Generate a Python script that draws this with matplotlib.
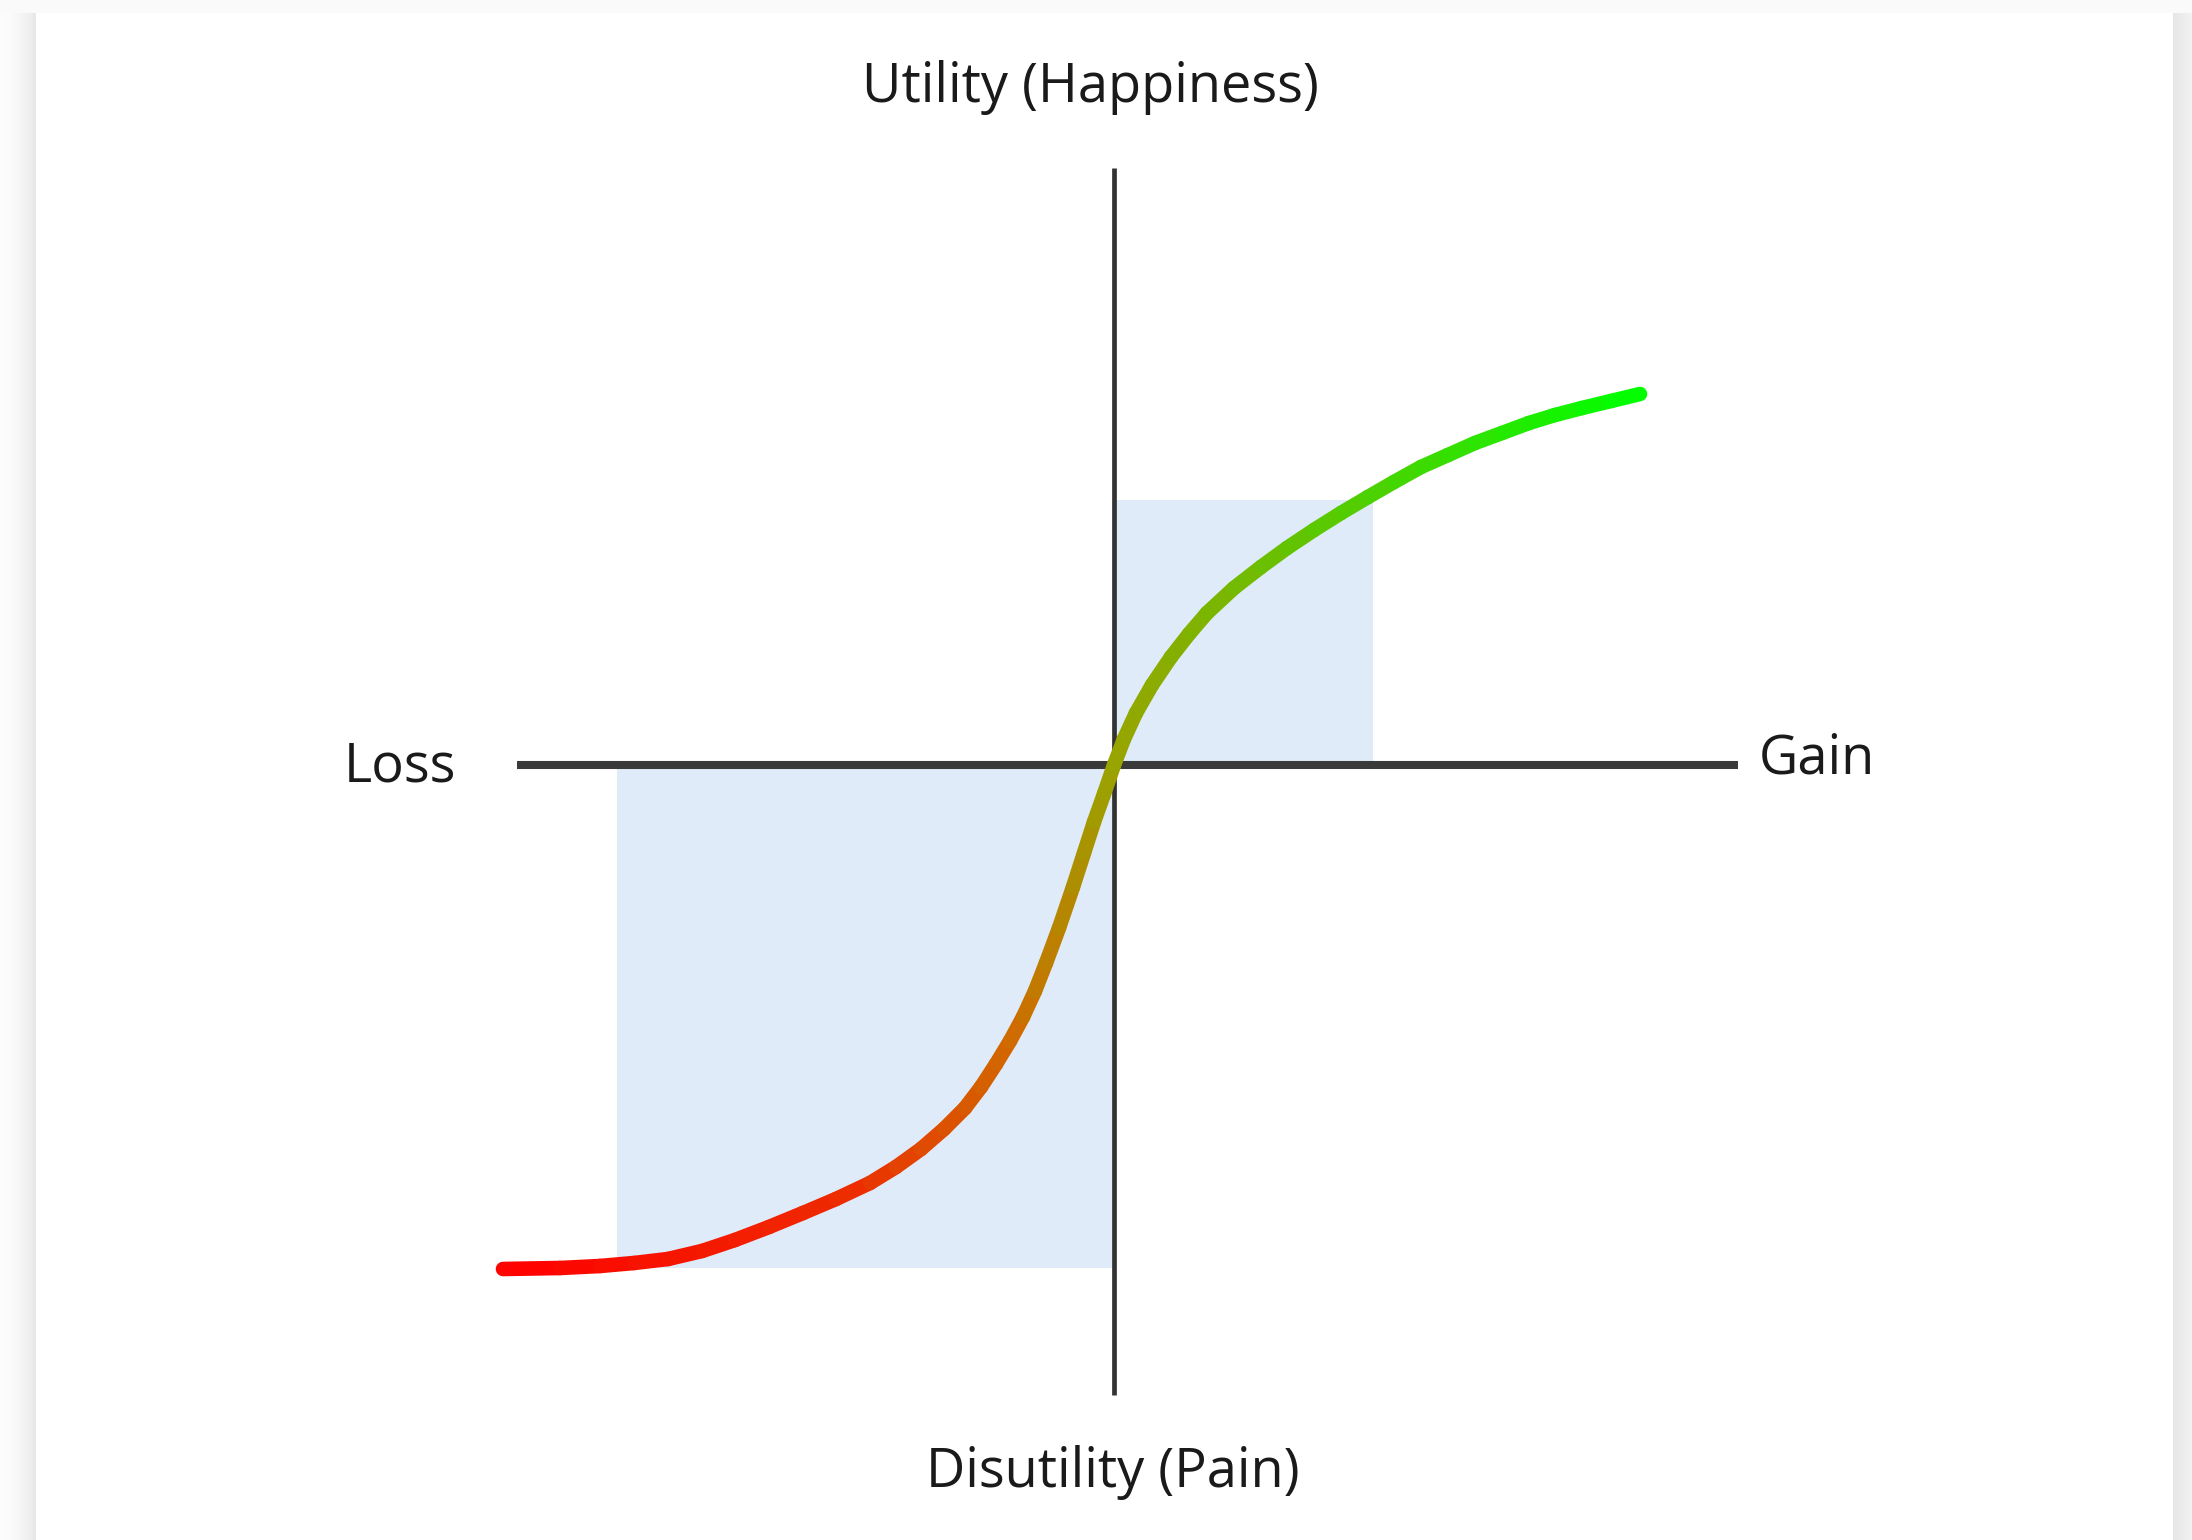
import numpy as np
import matplotlib
matplotlib.use("Agg")
import matplotlib.pyplot as plt
from matplotlib.collections import LineCollection
from matplotlib.colors import LinearSegmentedColormap
from matplotlib.patches import Rectangle

plt.rcParams['font.family'] = ['Open Sans', 'DejaVu Sans']

# value curve (origin = reference point)
curve_x = [-6.11, -5.54, -5.14, -4.80, -4.46, -4.12, -3.79, -3.45, -3.11, -2.78,
           -2.44, -2.18, -1.93, -1.70, -1.49, -1.33, -1.18, -1.04, -0.91, -0.79,
           -0.68, -0.55, -0.41, -0.30, -0.20, -0.10, 0.00, 0.10, 0.22, 0.38,
           0.57, 0.75, 0.93, 1.20, 1.47, 1.73, 2.00, 2.27, 2.54, 2.80,
           3.07, 3.34, 3.61, 3.88, 4.15, 4.41, 4.68, 4.97, 5.26]
curve_y = [-5.04, -5.03, -5.01, -4.98, -4.94, -4.86, -4.75, -4.62, -4.48, -4.34,
           -4.18, -4.02, -3.84, -3.64, -3.43, -3.22, -2.99, -2.76, -2.52, -2.26,
           -1.98, -1.63, -1.22, -0.88, -0.57, -0.29, 0.00, 0.26, 0.52, 0.80,
           1.08, 1.31, 1.52, 1.77, 1.98, 2.17, 2.35, 2.52, 2.68, 2.83,
           2.98, 3.10, 3.22, 3.32, 3.42, 3.50, 3.57, 3.64, 3.71]

# shaded boxes: (x0, y0, width, height)
box_gain = (0.0, 0.0, 2.59, 2.65)
box_loss = (-4.97, -5.03, 4.97, 5.03)

# axis extents
x_axis = (-5.97, 6.24)
y_axis = (-6.30, 5.97)

labels = {
    'top': 'Utility (Happiness)',
    'bottom': 'Disutility (Pain)',
    'left': 'Loss',
    'right': 'Gain',
}

W, H = 2192, 1540
fig = plt.figure(figsize=(W / 100, H / 100), dpi=100)

# page background with a soft shadow round the white card
bg = fig.add_axes([0, 0, 1, 1])
bg.axis('off')
xs = np.arange(W)
img = np.full((H, W), 0.98)
left = xs < 36
img[:, left] = 0.985 - 0.085 * (xs[left] / 36.0) ** 2
right = xs > 2172
img[:, right] = 0.90 + 0.045 * ((xs[right] - 2172) / 20.0)
img[:13, :] = 0.98
img[13:, 36:2173] = 1.0
bg.imshow(img, cmap='gray', vmin=0, vmax=1, extent=(0, W, H, 0), aspect='auto',
          interpolation='bilinear')
bg.set_xlim(0, W)
bg.set_ylim(H, 0)

ax = fig.add_axes([0, 0, 1, 1])
ax.patch.set_alpha(0)
ax.axis('off')
ax.set_xlim(-11.14, 10.78)
ax.set_ylim(-7.75, 7.65)

box_color = '#dfebf8'
for bx in (box_gain, box_loss):
    ax.add_patch(Rectangle((bx[0], bx[1]), bx[2], bx[3], facecolor=box_color,
                           edgecolor='none', zorder=1))

# axes cross
ax.plot(x_axis, [0, 0], color='#3a3a3a', lw=5.8, solid_capstyle='butt', zorder=2)
ax.plot([0, 0], y_axis, color='#333333', lw=3.4, solid_capstyle='butt', zorder=2)

# red -> green gradient curve
cx = np.array(curve_x)
cy = np.array(curve_y)
pts = np.column_stack([cx, cy]).reshape(-1, 1, 2)
segs = np.concatenate([pts[:-1], pts[1:]], axis=1)
cmap = LinearSegmentedColormap.from_list(
    'lossgain', [(0.0, '#ff0000'), (0.30, '#ee2a00'), (0.45, '#d06a00'),
                 (0.54, '#98a400'), (1.0, '#00ff00')])
mid = (cx[:-1] + cx[1:]) / 2
frac = (mid - cx.min()) / (cx.max() - cx.min())
lc = LineCollection(segs, colors=cmap(frac), linewidths=10.5, capstyle='round',
                    joinstyle='round', zorder=3)
ax.add_collection(lc)

txt = dict(fontsize=39, color='#1a1a1a', zorder=4)
ax.text(-0.24, 6.78, labels['top'], ha='center', va='center', **txt)
ax.text(-0.01, -7.07, labels['bottom'], ha='center', va='center', **txt)
ax.text(-7.14, -0.02, labels['left'], ha='center', va='center', **txt)
ax.text(7.03, 0.06, labels['right'], ha='center', va='center', **txt)

fig.savefig('out.png', dpi=100)
